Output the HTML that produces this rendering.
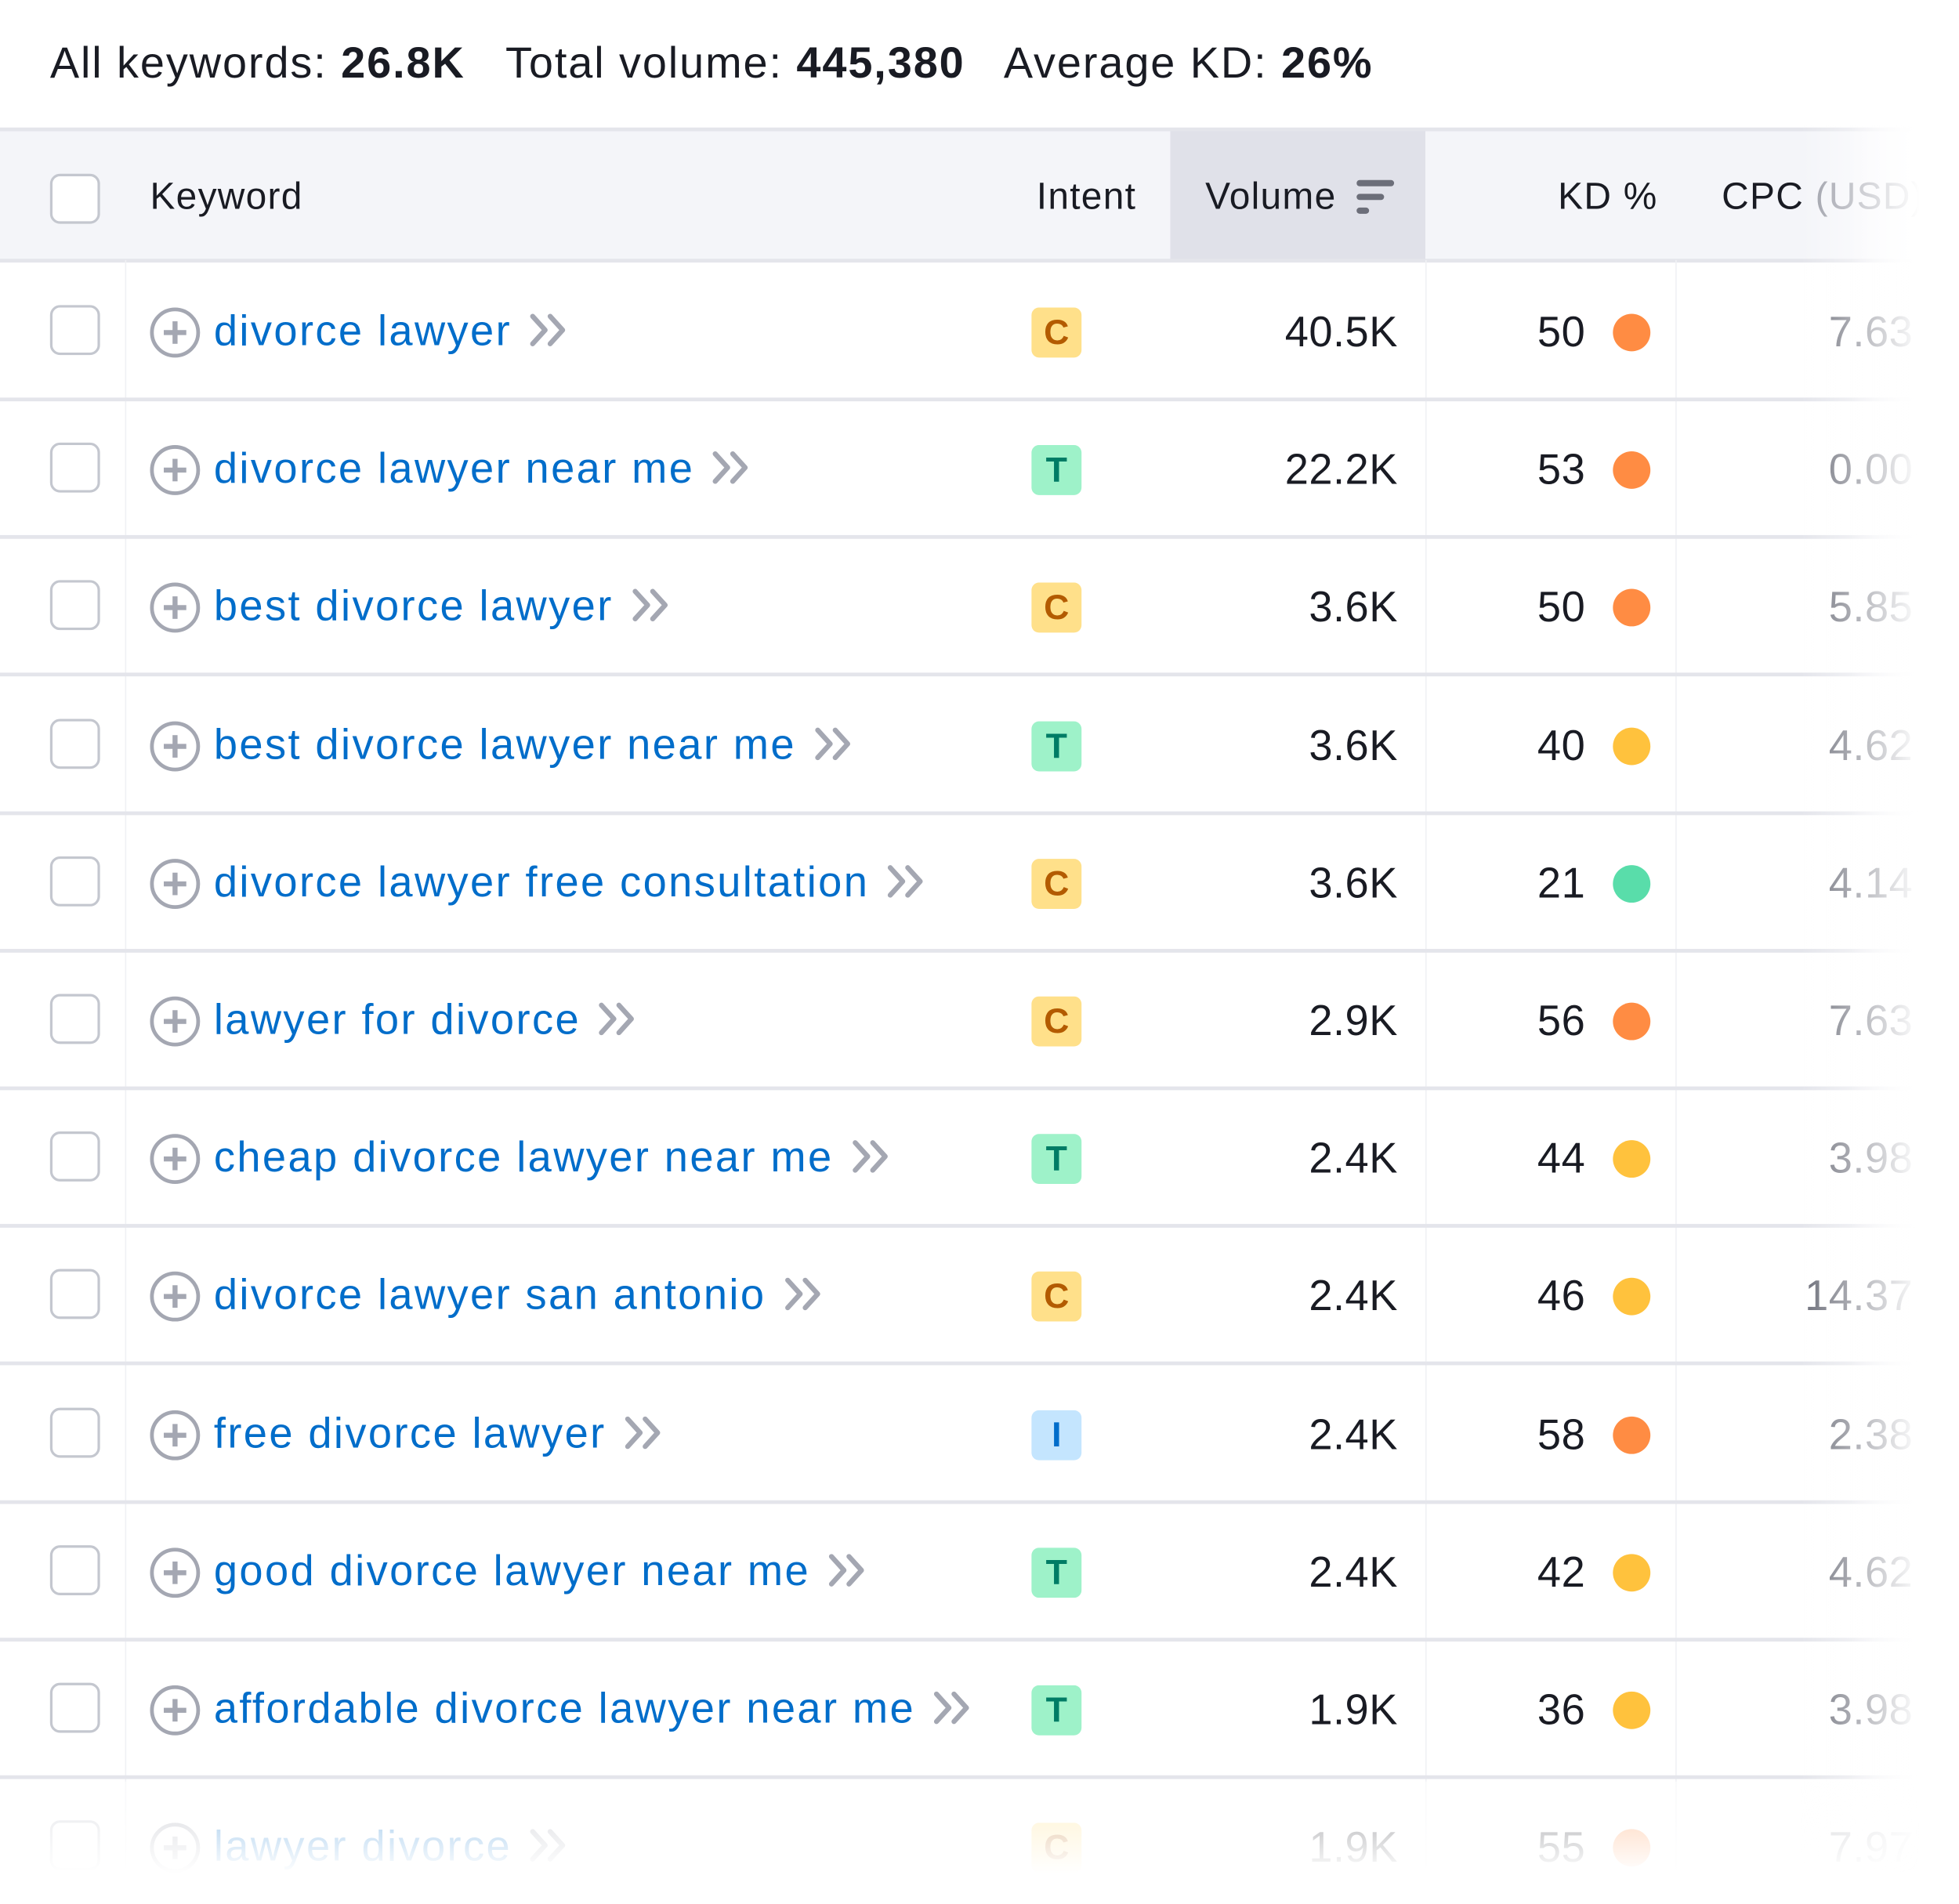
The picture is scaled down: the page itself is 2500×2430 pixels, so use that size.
<!DOCTYPE html>
<html><head><meta charset="utf-8"><style>
html,body{margin:0;padding:0;background:#fff;width:2500px;height:2429px;overflow:hidden}
#w{position:absolute;left:0;top:0;width:1567px;height:1523px;transform:scale(1.5956);transform-origin:0 0;font-family:"Liberation Sans",sans-serif;color:#191b23}
.sum{position:absolute;left:40px;top:31px;font-size:35px;white-space:nowrap;letter-spacing:1.2px}
.sum b{font-weight:bold}
.hl{position:absolute;left:0;width:1567px;height:3px;background:linear-gradient(to right,#e4e5eb 0,#e4e5eb 1480px,#fff 1540px)}
.hdr{position:absolute;left:0;top:104px;width:1567px;height:104px;background:linear-gradient(to right,#f4f5f9 0,#f4f5f9 1480px,#fff 1545px)}
.vbg{position:absolute;left:936px;top:104px;width:204px;height:104px;background:#e0e1e9}
.t{position:absolute;white-space:nowrap;font-size:30px;letter-spacing:0.8px}
.cb{position:absolute;left:40px;width:36px;height:36px;border:2px solid #c4c7cf;border-radius:8px;background:#fff}
.plus{position:absolute;left:120px;width:34px;height:34px;border:3px solid #a4a7b2;border-radius:50%}
.plus:before{content:"";position:absolute;left:8px;top:15px;width:18px;height:4px;background:#a4a7b2}
.plus:after{content:"";position:absolute;left:15px;top:8px;width:4px;height:18px;background:#a4a7b2}
.kw{position:absolute;left:171px;font-size:34px;color:#006dca;white-space:nowrap;letter-spacing:1.5px}
.kw svg{display:inline-block;vertical-align:middle;margin-left:14px;margin-top:-6px}
.bd{position:absolute;left:825px;width:40px;height:40px;border-radius:6px;font-weight:bold;font-size:28px;text-align:center;line-height:40px}
.C{background:#ffe08a;color:#b35b00}.T{background:#9ef2c9;color:#007c65}.I{background:#c4e5fe;color:#006dca}
.num{position:absolute;font-size:34px;text-align:right;white-space:nowrap;letter-spacing:0.3px}
.dot{position:absolute;left:1290px;width:30px;height:30px;border-radius:50%}
.o{background:#ff8c43}.y{background:#ffc23d}.g{background:#59ddaa}
.vs{position:absolute;top:208px;width:1px;height:1300px;background:#f0f1f4}
.fade{position:absolute;left:1440px;top:100px;width:127px;height:1423px;background:linear-gradient(to right,rgba(255,255,255,0),#fff 75%)}
.bot{position:absolute;left:0;top:1425px;width:1567px;height:98px;background:linear-gradient(to bottom,rgba(255,255,255,0.55),#fff 75%)}
</style></head><body><div id="w">
<div class="sum">All keywords: <b>26.8K</b>&nbsp;&nbsp; Total volume: <b>445,380</b>&nbsp;&nbsp; Average KD: <b>26%</b></div>
<div class="hdr"></div><div class="vbg"></div>
<div class="hl" style="top:102px"></div><div class="hl" style="top:207px"></div>
<div class="vs" style="left:100px"></div><div class="vs" style="left:1140px"></div><div class="vs" style="left:1340px"></div>
<div class="cb" style="top:139px"></div>
<div class="t" style="left:120px;top:141px">Keyword</div>
<div class="t" style="left:829px;top:141px">Intent</div>
<div class="t" style="left:964px;top:141px">Volume</div>
<div style="position:absolute;left:1085px;top:144px;width:30px;height:5px;border-radius:3px;background:#6c6e79"></div>
<div style="position:absolute;left:1085px;top:155px;width:22px;height:5px;border-radius:3px;background:#6c6e79"></div>
<div style="position:absolute;left:1085px;top:166px;width:10px;height:5px;border-radius:3px;background:#6c6e79"></div>
<div class="t" style="left:1246px;top:141px">KD %</div>
<div class="t" style="left:1377px;top:141px">CPC <span style="color:#9a9ca6">(USD)</span></div>
<div id="rows"></div>
<script>
var d=[["divorce lawyer","C","40.5K","50","o","7.63"],["divorce lawyer near me","T","22.2K","53","o","0.00"],["best divorce lawyer","C","3.6K","50","o","5.85"],["best divorce lawyer near me","T","3.6K","40","y","4.62"],["divorce lawyer free consultation","C","3.6K","21","g","4.14"],["lawyer for divorce","C","2.9K","56","o","7.63"],["cheap divorce lawyer near me","T","2.4K","44","y","3.98"],["divorce lawyer san antonio","C","2.4K","46","y","14.37"],["free divorce lawyer","I","2.4K","58","o","2.38"],["good divorce lawyer near me","T","2.4K","42","y","4.62"],["affordable divorce lawyer near me","T","1.9K","36","y","3.98"],["lawyer divorce","C","1.9K","55","o","7.97"]];
var chev='<svg width="32" height="28" viewBox="0 0 32 28"><path d="M3 3 L13 14 L3 25 M17 3 L27 14 L17 25" fill="none" stroke="#a4a7b2" stroke-width="4" stroke-linecap="round" stroke-linejoin="round"/></svg>';
var h="";
for(var i=0;i<d.length;i++){var c=266+i*110.2,r=d[i];
h+='<div class="cb" style="top:'+(c-22)+'px"></div><div class="plus" style="top:'+(c-20)+'px"></div>';
h+='<div class="kw" style="top:'+(c-20)+'px">'+r[0]+chev+'</div>';
h+='<div class="bd '+r[1]+'" style="top:'+(c-20)+'px">'+r[1]+'</div>';
h+='<div class="num" style="right:'+(1567-1118)+'px;top:'+(c-19)+'px">'+r[2]+'</div>';
h+='<div class="num" style="right:'+(1567-1268)+'px;top:'+(c-19)+'px">'+r[3]+'</div>';
h+='<div class="dot '+r[4]+'" style="top:'+(c-15)+'px"></div>';
h+='<div class="num" style="right:'+(1567-1530)+'px;top:'+(c-19)+'px;color:#6c6e79">'+r[5]+'</div>';
if(i<11)h+='<div class="hl" style="top:'+(c+52)+'px"></div>';}
document.getElementById("rows").innerHTML=h;
</script>
<div class="fade"></div>
<div class="bot"></div>
</div></body></html>
